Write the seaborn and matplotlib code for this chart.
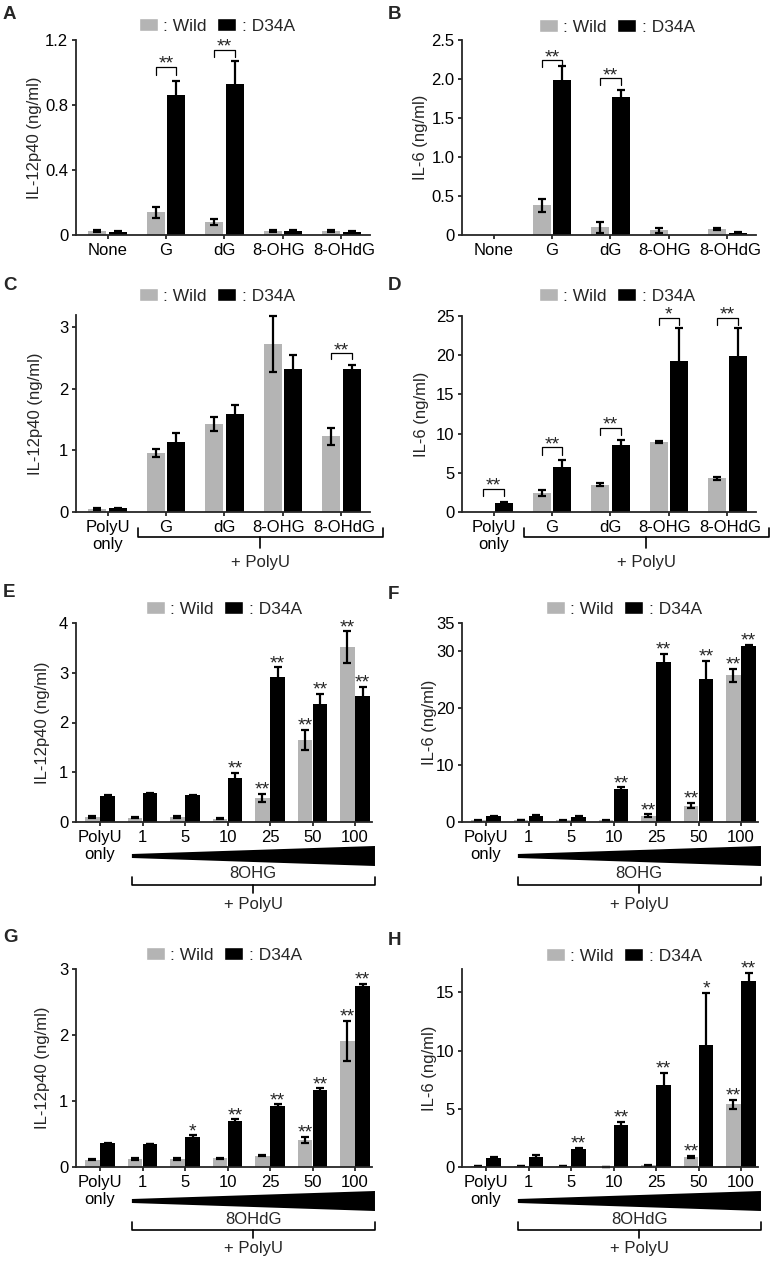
import pandas as pd
import matplotlib
matplotlib.use("Agg")
import matplotlib.pyplot as plt
import matplotlib.transforms as mtransforms
from matplotlib.patches import Patch, Polygon
import seaborn as sns

# cytokine release from wild type vs D34A cells (ng/ml)

W, H = 772, 1263
GRAY = "#b4b4b4"

nuc = ["None", "G", "dG", "8-OHG", "8-OHdG"]
nuc_polyu = ["PolyU\nonly", "G", "dG", "8-OHG", "8-OHdG"]
dose = ["PolyU\nonly", "1", "5", "10", "25", "50", "100"]

# A  IL-12p40, nucleosides alone
a_wild = [0.027, 0.14, 0.08, 0.025, 0.025]
a_wild_err = [0.006, 0.035, 0.016, 0.005, 0.005]
a_d34a = [0.02, 0.86, 0.93, 0.025, 0.02]
a_d34a_err = [0.004, 0.09, 0.14, 0.004, 0.004]

# B  IL-6, nucleosides alone
b_wild = [0.0, 0.38, 0.10, 0.06, 0.08]
b_wild_err = [0.0, 0.08, 0.07, 0.035, 0.012]
b_d34a = [0.0, 1.99, 1.77, 0.0, 0.03]
b_d34a_err = [0.0, 0.18, 0.09, 0.0, 0.012]

# C  IL-12p40, + PolyU
c_wild = [0.05, 0.96, 1.43, 2.73, 1.23]
c_wild_err = [0.02, 0.06, 0.11, 0.46, 0.14]
c_d34a = [0.06, 1.14, 1.59, 2.32, 2.32]
c_d34a_err = [0.01, 0.14, 0.14, 0.23, 0.07]

# D  IL-6, + PolyU
d_wild = [0.0, 2.4, 3.5, 8.9, 4.3]
d_wild_err = [0.0, 0.35, 0.2, 0.15, 0.2]
d_d34a = [1.1, 5.8, 8.5, 19.2, 19.9]
d_d34a_err = [0.15, 0.8, 0.7, 4.3, 3.6]

# E  IL-12p40, 8OHG dose
e_wild = [0.1, 0.09, 0.1, 0.07, 0.49, 1.65, 3.51]
e_wild_err = [0.015, 0.015, 0.015, 0.015, 0.08, 0.2, 0.32]
e_d34a = [0.52, 0.58, 0.54, 0.89, 2.91, 2.37, 2.53]
e_d34a_err = [0.03, 0.01, 0.01, 0.1, 0.2, 0.2, 0.19]

# F  IL-6, 8OHG dose
f_wild = [0.3, 0.35, 0.3, 0.3, 1.1, 2.9, 25.8]
f_wild_err = [0.1, 0.05, 0.05, 0.05, 0.25, 0.5, 1.1]
f_d34a = [1.0, 1.1, 0.9, 5.8, 28.2, 25.2, 30.9]
f_d34a_err = [0.1, 0.1, 0.1, 0.3, 1.3, 3.2, 0.2]

# G  IL-12p40, 8OHdG dose
g_wild = [0.11, 0.12, 0.12, 0.13, 0.17, 0.41, 1.91]
g_wild_err = [0.01, 0.01, 0.01, 0.01, 0.01, 0.05, 0.3]
g_d34a = [0.36, 0.35, 0.46, 0.69, 0.93, 1.16, 2.75]
g_d34a_err = [0.01, 0.005, 0.02, 0.03, 0.02, 0.03, 0.03]

# H  IL-6, 8OHdG dose
h_wild = [0.08, 0.06, 0.06, 0.03, 0.14, 0.86, 5.39]
h_wild_err = [0.02, 0.01, 0.01, 0.01, 0.03, 0.12, 0.4]
h_d34a = [0.8, 0.9, 1.55, 3.58, 7.0, 10.47, 15.94]
h_d34a_err = [0.03, 0.1, 0.08, 0.3, 1.1, 4.5, 0.75]

# significance brackets (category, bracket height, drop, label)
a_sig = [(1, 1.036, 0.05, "**"), (2, 1.138, 0.045, "**")]
b_sig = [(1, 2.24, 0.09, "**"), (2, 2.01, 0.09, "**")]
c_sig = [(4, 2.58, 0.1, "**")]
d_sig = [(0, 2.92, 0.9, "**"), (1, 8.26, 0.95, "**"), (2, 10.76, 0.9, "**"),
         (3, 24.8, 0.9, "*"), (4, 24.8, 0.9, "**")]
# stars over single bars (series 0 = Wild, 1 = D34A)
e_star = [(1, 3, "**"), (1, 4, "**"), (1, 5, "**"), (1, 6, "**"),
          (0, 4, "**"), (0, 5, "**"), (0, 6, "**")]
f_star = e_star
g_star = [(1, 2, "*"), (1, 3, "**"), (1, 4, "**"), (1, 5, "**"), (1, 6, "**"),
          (0, 5, "**"), (0, 6, "**")]
h_star = [(1, 2, "**"), (1, 3, "**"), (1, 4, "**"), (1, 5, "*"), (1, 6, "**"),
          (0, 5, "**"), (0, 6, "**")]

sns.set_theme(style="ticks")
plt.rcParams["font.family"] = ["Liberation Sans", "DejaVu Sans"]
plt.rcParams["axes.linewidth"] = 1.3

fig = plt.figure(figsize=(W / 100, H / 100), dpi=100)
FS = 12


def make_ax(l, t, r, b):
    return fig.add_axes([l / W, 1 - b / H, (r - l) / W, (b - t) / H])


def panel(box, cats, wild, wild_err, d34a, d34a_err, ylim, yticks, ylabels,
          ylabel, xlim, width, gap, legend_xy, ylab_dx):
    ax = make_ax(*box)
    df = pd.DataFrame({"cat": cats + cats, "val": wild + d34a,
                       "strain": ["Wild"] * len(cats) + ["D34A"] * len(cats)})
    sns.barplot(data=df, x="cat", y="val", hue="strain", order=cats,
                hue_order=["Wild", "D34A"], palette=[GRAY, "black"],
                errorbar=None, width=width, gap=gap, saturation=1,
                legend=False, linewidth=0, ax=ax)
    centers, tops = [], []
    for cont, errs in zip(ax.containers, [wild_err, d34a_err]):
        xs = [p.get_x() + p.get_width() / 2 for p in cont]
        ys = [p.get_height() for p in cont]
        keep = [i for i, e in enumerate(errs) if e > 0]
        ax.errorbar([xs[i] for i in keep], [ys[i] for i in keep],
                    yerr=[errs[i] for i in keep], fmt="none", ecolor="black",
                    elinewidth=1.6, capsize=2.6, capthick=1.6, clip_on=False)
        centers.append(xs)
        tops.append([y + e for y, e in zip(ys, errs)])
    ax.set_ylim(*ylim)
    ax.set_xlim(*xlim)
    ax.set_yticks(yticks)
    ax.set_yticklabels(ylabels)
    ax.set_xlabel("")
    ax.set_ylabel(ylabel, fontsize=12)
    ax.yaxis.set_label_coords(-ylab_dx / ax.bbox.width, 0.5)
    ax.tick_params(length=3, width=1.1, pad=2.5, labelsize=FS, colors="black")
    sns.despine(ax=ax)
    if len(cats) == 5:
        # the last two labels are nudged apart as in the original figure
        for lab, dx in zip(ax.get_xticklabels(), [0, 0, 0, -4, 3]):
            lab.set_transform(lab.get_transform() + mtransforms.ScaledTranslation(
                dx / 100, 0, fig.dpi_scale_trans))
    handles = [Patch(facecolor=GRAY, label=": Wild"),
               Patch(facecolor="black", label=": D34A")]
    ax.legend(handles=handles, loc="center",
              bbox_to_anchor=(legend_xy[0] / W, 1 - legend_xy[1] / H),
              bbox_transform=fig.transFigure, ncol=2, frameon=False,
              fontsize=12.5, handlelength=1.1, handleheight=0.7,
              handletextpad=0.3, columnspacing=0.6, borderpad=0,
              borderaxespad=0)
    return ax, centers, tops


def sig_brackets(ax, centers, sigs):
    for i, y, drop, txt in sigs:
        x1, x2 = centers[0][i], centers[1][i]
        ax.plot([x1, x1, x2, x2], [y - drop, y, y, y - drop], color="black",
                lw=0.9, clip_on=False)
        ax.annotate(txt, xy=((x1 + x2) / 2, y), xytext=(0, -1.3),
                    textcoords="offset points", ha="center", va="baseline",
                    fontsize=14, annotation_clip=False)


def bar_stars(ax, centers, tops, stars):
    for s, i, txt in stars:
        ax.annotate(txt, xy=(centers[s][i], tops[s][i]), xytext=(0, -0.5),
                    textcoords="offset points", ha="center", va="baseline",
                    fontsize=14, annotation_clip=False)


def below(ax):
    tr = mtransforms.blended_transform_factory(ax.transData, ax.transAxes)
    return tr, ax.bbox.height


def brace(ax, x0, x1, xc, top, mid, tick):
    tr, h = below(ax)
    ax.plot([x0, x0, x1, x1], [-top / h, -mid / h, -mid / h, -top / h],
            color="black", lw=1.2, transform=tr, clip_on=False,
            solid_joinstyle="round")
    ax.plot([xc, xc], [-mid / h, -tick / h], color="black", lw=1.2,
            transform=tr, clip_on=False)


def polyu_group(ax):
    tr, h = below(ax)
    brace(ax, 0.52, 4.71, 2.61, 16, 25, 36)
    ax.text(2.61, -51 / h, "+ PolyU", transform=tr, ha="center", va="center",
            fontsize=FS)


def dose_group(ax, drug):
    tr, h = below(ax)
    x0, x1, xc = 0.75, 6.47, 3.6
    ax.add_patch(Polygon([(x0, -32 / h), (x1, -24 / h), (x1, -44 / h),
                          (x0, -36 / h)], closed=True, facecolor="black",
                         edgecolor="none", transform=tr, clip_on=False))
    ax.text(xc, -52 / h, drug, transform=tr, ha="center", va="center",
            fontsize=FS)
    brace(ax, x0, x1, xc, 55, 63, 71)
    ax.text(xc, -82 / h, "+ PolyU", transform=tr, ha="center", va="center",
            fontsize=FS)


xl5 = (-0.54, 4.49)
xl7 = (-0.565, 6.4)

axA, cA, tA = panel((76, 40, 370, 235), nuc, a_wild, a_wild_err, a_d34a, a_d34a_err,
                    (0, 1.2), [0, 0.4, 0.8, 1.2], ["0", "0.4", "0.8", "1.2"],
                    "IL-12p40 (ng/ml)", xl5, 0.7, 0.12, (217, 26), 34)
sig_brackets(axA, cA, a_sig)

axB, cB, tB = panel((462, 40, 756, 235), nuc, b_wild, b_wild_err, b_d34a, b_d34a_err,
                    (0, 2.5), [0, 0.5, 1.0, 1.5, 2.0, 2.5],
                    ["0", "0.5", "1.0", "1.5", "2.0", "2.5"],
                    "IL-6 (ng/ml)", xl5, 0.7, 0.12, (617, 27), 34)
sig_brackets(axB, cB, b_sig)

axC, cC, tC = panel((76, 315, 370, 512), nuc_polyu, c_wild, c_wild_err, c_d34a, c_d34a_err,
                    (0, 3.2), [0, 1, 2, 3], ["0", "1", "2", "3"],
                    "IL-12p40 (ng/ml)", xl5, 0.7, 0.12, (217, 296), 33)
sig_brackets(axC, cC, c_sig)
polyu_group(axC)

axD, cD, tD = panel((462, 316, 756, 512), nuc_polyu, d_wild, d_wild_err, d_d34a, d_d34a_err,
                    (0, 25), [0, 5, 10, 15, 20, 25], ["0", "5", "10", "15", "20", "25"],
                    "IL-6 (ng/ml)", xl5, 0.7, 0.12, (617, 296), 33)
sig_brackets(axD, cD, d_sig)
polyu_group(axD)

axE, cE, tE = panel((76, 623, 372, 822), dose, e_wild, e_wild_err, e_d34a, e_d34a_err,
                    (0, 4), [0, 1, 2, 3, 4], ["0", "1", "2", "3", "4"],
                    "IL-12p40 (ng/ml)", xl7, 0.72, 0.06, (224, 609), 26)
bar_stars(axE, cE, tE, e_star)
dose_group(axE, "8OHG")

axF, cF, tF = panel((462, 623, 758, 822), dose, f_wild, f_wild_err, f_d34a, f_d34a_err,
                    (0, 35), [0, 10, 20, 30, 35], ["0", "10", "20", "30", "35"],
                    "IL-6 (ng/ml)", xl7, 0.72, 0.06, (624, 609), 25)
bar_stars(axF, cF, tF, f_star)
dose_group(axF, "8OHG")

axG, cG, tG = panel((76, 969, 372, 1167), dose, g_wild, g_wild_err, g_d34a, g_d34a_err,
                    (0, 3), [0, 1, 2, 3], ["0", "1", "2", "3"],
                    "IL-12p40 (ng/ml)", xl7, 0.72, 0.06, (224, 955), 26)
bar_stars(axG, cG, tG, g_star)
dose_group(axG, "8OHdG")

axH, cH, tH = panel((462, 969, 758, 1167), dose, h_wild, h_wild_err, h_d34a, h_d34a_err,
                    (0, 17), [0, 5, 10, 15], ["0", "5", "10", "15"],
                    "IL-6 (ng/ml)", xl7, 0.72, 0.06, (624, 956), 25)
bar_stars(axH, cH, tH, h_star)
dose_group(axH, "8OHdG")

for letter, x, y in [("A", 3, 6), ("B", 388, 6), ("C", 3, 277), ("D", 388, 277),
                     ("E", 3, 584), ("F", 388, 586), ("G", 3, 929), ("H", 388, 932)]:
    fig.text(x / W, 1 - y / H, letter, fontsize=13.5, fontweight="bold",
             ha="left", va="top")

fig.savefig("out.png", dpi=100)
